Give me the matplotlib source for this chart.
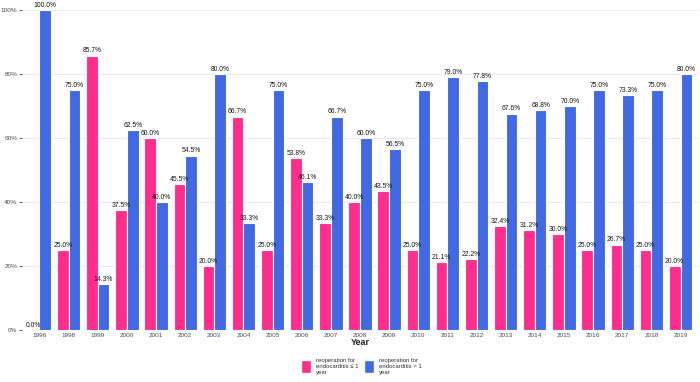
import numpy as np
import matplotlib.pyplot as plt
from matplotlib.patches import Patch

plt.rcParams['font.family'] = ['Liberation Sans', 'DejaVu Sans']

years = ['1996', '1998', '1999', '2000', '2001', '2002', '2003', '2004', '2005',
         '2006', '2007', '2008', '2009', '2010', '2011', '2012', '2013', '2014',
         '2015', '2016', '2017', '2018', '2019']
le1 = [0.0, 25.0, 85.7, 37.5, 60.0, 45.5, 20.0, 66.7, 25.0, 53.8, 33.3, 40.0,
       43.5, 25.0, 21.1, 22.2, 32.4, 31.2, 30.0, 25.0, 26.7, 25.0, 20.0]
gt1 = [100.0, 75.0, 14.3, 62.5, 40.0, 54.5, 80.0, 33.3, 75.0, 46.1, 66.7, 60.0,
       56.5, 75.0, 79.0, 77.8, 67.6, 68.8, 70.0, 75.0, 73.3, 75.0, 80.0]
pink = '#FF2D8E'
blue = '#4169E1'

fig = plt.figure(figsize=(7, 3.82), dpi=100)
ax = fig.add_axes([22 / 700, 52 / 382, 676 / 700, 320 / 382])

x = np.arange(len(years))
w = 0.4
b1 = ax.bar(x - w / 2, le1, w, color=pink, edgecolor='white', linewidth=0.8, zorder=2)
b2 = ax.bar(x + w / 2, gt1, w, color=blue, edgecolor='white', linewidth=0.8, zorder=2)

for bars, vals in ((b1, le1), (b2, gt1)):
    for r, v in zip(bars, vals):
        ax.text(r.get_x() + r.get_width() / 2, v + 0.4, f'{v:.1f}%',
                ha='center', va='bottom', fontsize=4.9, color='#1a1a1a', zorder=3)

ax.set_xlim(-0.6, len(years) - 0.4)
ax.set_ylim(0, 100)
ax.set_xticks(x)
ax.set_xticklabels(years)
ax.set_yticks([0, 20, 40, 60, 80, 100])
ax.set_yticklabels(['0%', '20%', '40%', '60%', '80%', '100%'])
ax.tick_params(axis='both', labelsize=4.6, colors='#4d4d4d', length=2, width=0.6, pad=1.5)
ax.tick_params(axis='x', length=0, pad=2)
ax.grid(axis='y', color='#EBEBEB', linewidth=0.9, zorder=0)
ax.set_axisbelow(True)
for s in ax.spines.values():
    s.set_visible(False)
ax.set_xlabel('Year', fontsize=6.5, fontweight='bold', color='#222222', labelpad=0.5)

handles = [Patch(facecolor=pink, edgecolor='white', label='reoperation for\nendocarditis ≤ 1\nyear'),
           Patch(facecolor=blue, edgecolor='white', label='reoperation for\nendocarditis > 1\nyear')]
fig.legend(handles=handles, loc='center', bbox_to_anchor=(0.516, 0.041), ncol=2,
           frameon=False, fontsize=4.3, handlelength=1.7, handleheight=2.9,
           columnspacing=0.9, handletextpad=0.85, labelcolor='#333333',
           borderpad=0, labelspacing=0)

fig.savefig('out.png', dpi=100)
